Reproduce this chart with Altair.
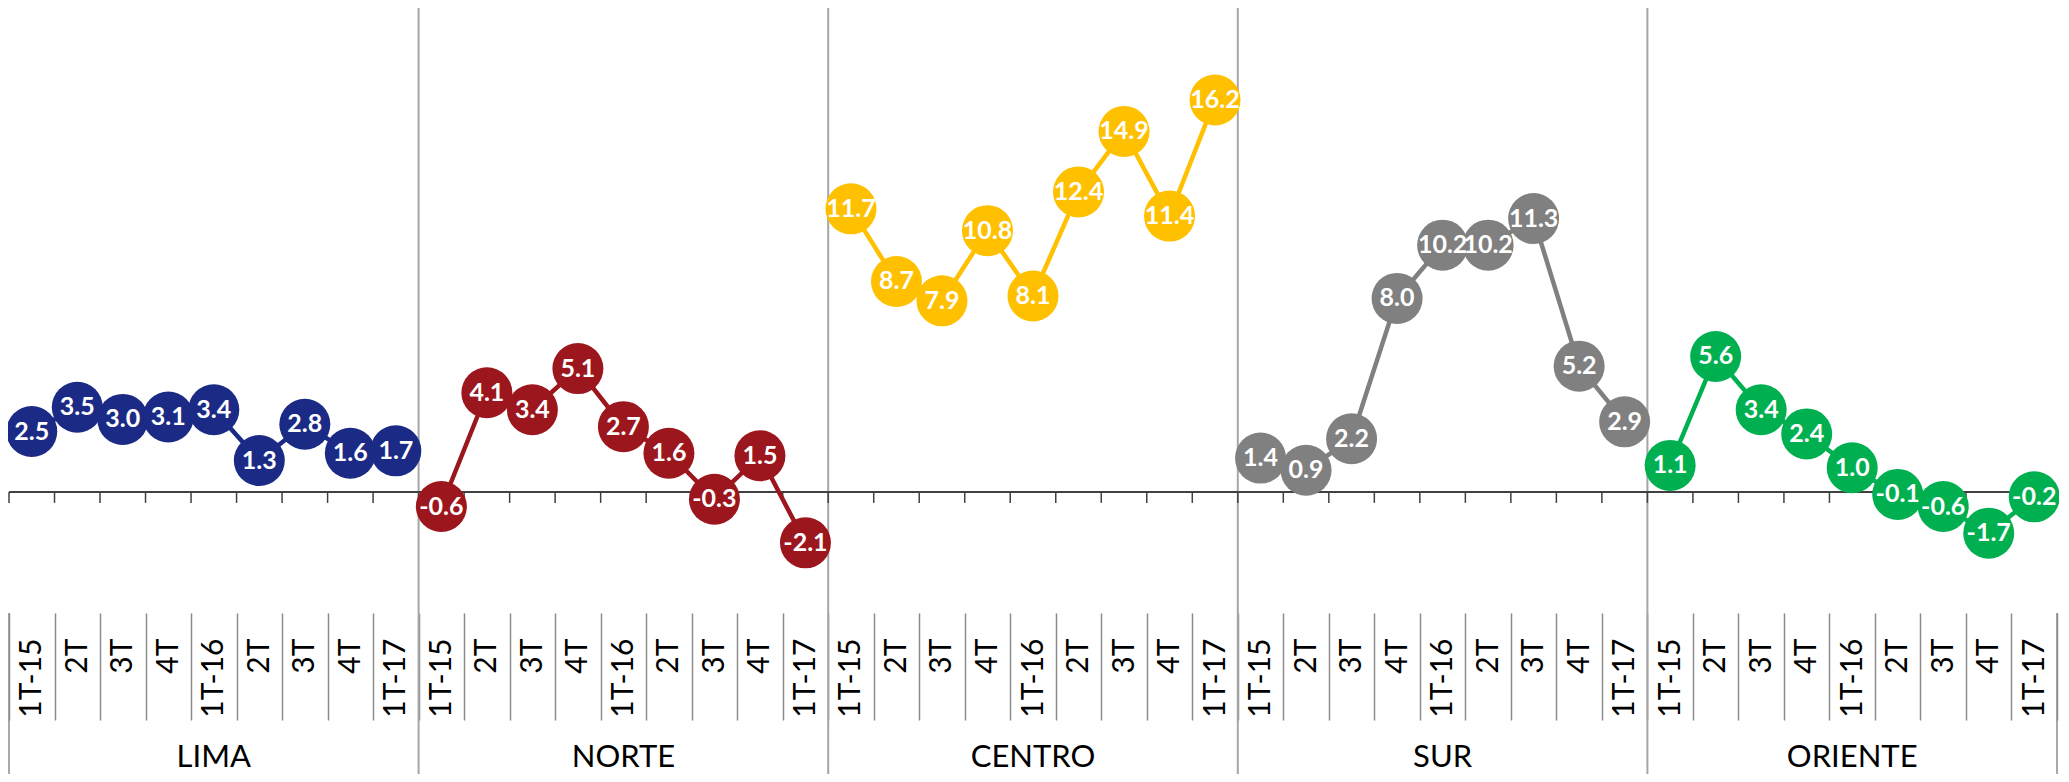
import altair as alt
import pandas as pd

regions = ["LIMA", "NORTE", "CENTRO", "SUR", "ORIENTE"]
quarters = ["1T-15", "2T", "3T", "4T", "1T-16", "2T", "3T", "4T", "1T-17"]
lima = [2.5, 3.5, 3.0, 3.1, 3.4, 1.3, 2.8, 1.6, 1.7]
norte = [-0.6, 4.1, 3.4, 5.1, 2.7, 1.6, -0.3, 1.5, -2.1]
centro = [11.7, 8.7, 7.9, 10.8, 8.1, 12.4, 14.9, 11.4, 16.2]
sur = [1.4, 0.9, 2.2, 8.0, 10.2, 10.2, 11.3, 5.2, 2.9]
oriente = [1.1, 5.6, 3.4, 2.4, 1.0, -0.1, -0.6, -1.7, -0.2]
colors = ["#1B2A85", "#9C161D", "#FFC000", "#808080", "#00B050"]

series = [lima, norte, centro, sur, oriente]
rows = []
for r, vals in zip(regions, series):
    for i, (q, v) in enumerate(zip(quarters, vals)):
        rows.append({"region": r, "key": f"{r}|{i}|{q}", "q": q,
                     "value": v, "label": f"{v:.1f}"})
df = pd.DataFrame(rows)
keys = list(df["key"])

FONT = "Lato"
W, H = 2048, 605
BOTTOM = 161

xscale = alt.Scale(type="band", paddingInner=0, paddingOuter=0)
xaxis = alt.Axis(title=None, labelAngle=270,
                 labelExpr="split(datum.value,'|')[2]",
                 labelFont=FONT, labelFontSize=30, labelColor="#000000",
                 labelPadding=-82, tickBand="extent", tickSize=107,
                 tickColor="#8C8C8C", tickWidth=1.5, domain=False,
                 grid=False, labelOverlap=False, labelBound=False)


def X(band):
    return alt.X("key:N", sort=keys, scale=xscale, axis=xaxis, bandPosition=band)


yscale = alt.Scale(domain=[-5, 20], nice=False, zero=False)
cscale = alt.Scale(domain=regions, range=colors)

zero = alt.Chart(pd.DataFrame({"z": [0.0]})).mark_rule(
    color="#404040", strokeWidth=2
).encode(y=alt.Y("z:Q", scale=yscale, axis=None))

zticks = alt.Chart(df).mark_rule(color="#404040", strokeWidth=1.5).encode(
    x=X(0), y=alt.Y("zy:Q", scale=yscale, axis=None), y2="zy2:Q"
).transform_calculate(zy="0", zy2="-0.45")

firsts = pd.DataFrame({"key": [keys[9 * g] for g in range(1, 5)]})
seps = alt.Chart(firsts).mark_rule(color="#A6A6A6", strokeWidth=2).encode(
    x=X(0), y=alt.value(0), y2=alt.value(H + BOTTOM)
)
left_edge = alt.Chart(pd.DataFrame({"key": [keys[0]]})).mark_rule(
    color="#8C8C8C", strokeWidth=1.5).encode(x=X(0), y=alt.value(H), y2=alt.value(H + BOTTOM))
right_edge = alt.Chart(pd.DataFrame({"key": [keys[-1]]})).mark_rule(
    color="#8C8C8C", strokeWidth=1.5).encode(x=X(1), y=alt.value(H), y2=alt.value(H + BOTTOM))

color = alt.Color("region:N", scale=cscale, legend=None)
lines = alt.Chart(df).mark_line(strokeWidth=4.5).encode(
    x=X(0.5), y=alt.Y("value:Q", scale=yscale, axis=None), color=color,
    detail="region:N"
)
dots = alt.Chart(df).mark_circle(size=2601, opacity=1).encode(
    x=X(0.5), y=alt.Y("value:Q", scale=yscale, axis=None), color=color
)
labels = alt.Chart(df).mark_text(
    color="white", font=FONT, fontWeight="bold", fontSize=25,
    baseline="middle", align="center"
).encode(x=X(0.5), y=alt.Y("value:Q", scale=yscale, axis=None), text="label:N")

centers = pd.DataFrame({"key": [keys[9 * g + 4] for g in range(5)], "region": regions})
glabels = alt.Chart(centers).mark_text(
    font=FONT, fontSize=31, color="#000000", baseline="middle", align="center"
).encode(x=X(0.5), y=alt.value(750), text="region:N")

chart = alt.layer(
    seps, left_edge, right_edge, zero, zticks, lines, dots, labels, glabels
).properties(
    width=W, height=H,
    padding={"left": 1, "top": 0, "right": 2, "bottom": BOTTOM},
    autosize=alt.AutoSizeParams(type="none"),
).configure_view(stroke=None)

chart.save("out.html", embed_options={"renderer": "svg", "actions": False})
